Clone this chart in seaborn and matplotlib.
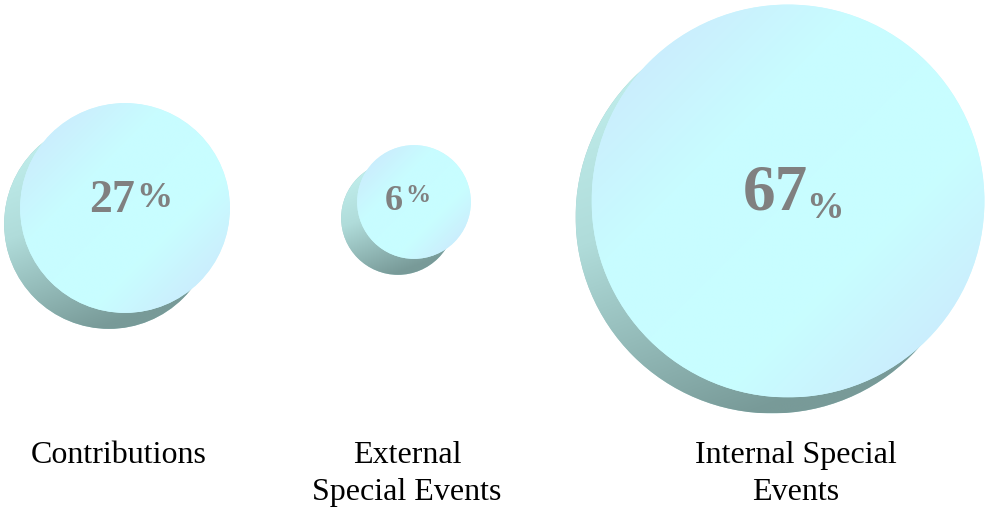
import numpy as np
import pandas as pd
import matplotlib
matplotlib.use("Agg")
import matplotlib.pyplot as plt
import seaborn as sns
from matplotlib.patches import Circle
from matplotlib.colors import to_rgb

# ---- data ----
categories = ["Contributions", "External\nSpecial Events", "Internal Special\nEvents"]
shares = [27, 6, 67]

# ---- layout (pixel space, y downward) ----
bubble_x = [125, 414, 788]
bubble_y = [208, 202, 201]
label_x = [119, 407, 796]
label_base = 463
label_step = 37
shadow_dx, shadow_dy = -16, 16
num_pos = [(89, 212, 33), (385, 210, 26), (743, 210, 47)]
pct_pos = [(136, 207, 26), (405, 202, 18), (806, 218, 27)]

sns.set_theme(style="white")
plt.rcParams["font.family"] = ["Liberation Serif", "DejaVu Serif"]

W, H = 986, 508
fig = plt.figure(figsize=(W / 100, H / 100), dpi=100)
ax = fig.add_axes([0, 0, 1, 1])

vals = np.array(shares, dtype=float)
radius = 43.1 + 2.288 * vals  # linear radius scale for bubble size

df = pd.DataFrame({
    "category": categories,
    "share": shares,
    "x": bubble_x,
    "y": bubble_y,
    "r": radius,
})
df["sx"] = df["x"] + shadow_dx
df["sy"] = df["y"] + shadow_dy
px2pt = 72 / 100
df["s"] = (2 * df["r"] * px2pt) ** 2

sns.scatterplot(data=df, x="sx", y="sy", s=df["s"].values, color="#a2cccb",
                linewidth=0, legend=False, ax=ax, zorder=1)
sns.scatterplot(data=df, x="x", y="y", s=df["s"].values, color="#c8f8fe",
                linewidth=0, legend=False, ax=ax, zorder=3)


def gradient(stops, direction, n=500):
    u = np.linspace(-1, 1, n)
    X, Y = np.meshgrid(u, u)
    d = np.array(direction, float)
    d /= np.linalg.norm(d)
    t = X * d[0] + Y * d[1]
    pos = [p for p, _ in stops]
    cols = np.array([to_rgb(c) for _, c in stops])
    img = np.zeros((n, n, 3))
    for k in range(3):
        img[..., k] = np.interp(t, pos, cols[:, k])
    return img


front_img = gradient([(-1, "#cbeefd"), (-0.45, "#c8fcff"), (0.45, "#c8feff"), (1, "#cbeefd")], (1, 1))
shadow_img = gradient([(-1, "#c0eeec"), (-0.2, "#b0dcda"), (0.9, "#789a98"), (1, "#789a98")], (0.35, 0.94))

for _, row in df.iterrows():
    r = row["r"]
    for cx, cy, img, z in [(row["sx"], row["sy"], shadow_img, 2), (row["x"], row["y"], front_img, 4)]:
        im = ax.imshow(img, extent=(cx - r, cx + r, cy + r, cy - r), origin="upper",
                       zorder=z, interpolation="bilinear", aspect="auto")
        circ = Circle((cx, cy), r, transform=ax.transData)
        im.set_clip_path(circ)

# percentage texts
for v, (nx, ny, ns), (qx, qy, qs) in zip(shares, num_pos, pct_pos):
    ax.text(nx, ny, f"{v}", fontsize=ns, fontweight="bold", color="#808080",
            ha="left", va="baseline", zorder=6)
    ax.text(qx, qy, "%", fontsize=qs, fontweight="bold", color="#808080",
            ha="left", va="baseline", zorder=6)

# category labels
for cat, lx in zip(categories, label_x):
    for i, line in enumerate(cat.split("\n")):
        ax.text(lx, label_base + i * label_step, line, fontsize=23, color="black",
                ha="center", va="baseline", zorder=6)

ax.set_xlim(0, W)
ax.set_ylim(H, 0)
ax.axis("off")

fig.savefig("out.png", dpi=100, facecolor="white")
